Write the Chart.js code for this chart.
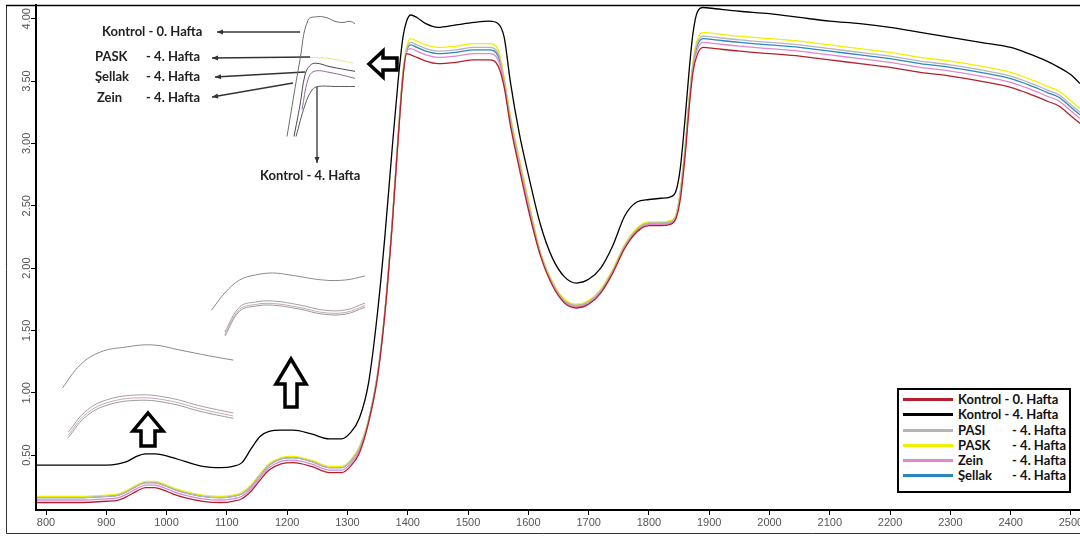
<!DOCTYPE html>
<html>
<head>
<meta charset="utf-8">
<script src="https://cdn.jsdelivr.net/npm/chart.js@4.4.1/dist/chart.umd.min.js"></script>
<style>
  html, body { margin: 0; padding: 0; background: #fff; }
  #wrap { position: relative; width: 1080px; height: 536px; overflow: hidden; }
  #main { position: absolute; left: 0; top: 0; }
  .inset { position: absolute; }
  #legend {
    position: absolute; left: 897px; top: 388px; width: 170px; height: 99px;
    border: 2px solid #000; background: #fff; padding-top: 2px; box-sizing: content-box;
    font: bold 13px Lato, sans-serif; color: #111;
  }
  #legend .row { position: relative; height: 15.3px; line-height: 15.3px; }
  #legend .sw { position: absolute; left: 4px; top: 6px; width: 50px; height: 3px; }
  #legend .nm { position: absolute; left: 59px; top: 0; }
  #legend .sf { position: absolute; right: 3px; top: 0; }
</style>
</head>
<body>
<div id="wrap">
  <canvas id="main" width="1080" height="536"></canvas>
  <canvas id="ins1" class="inset" width="75" height="128" style="left:283px;top:12px"></canvas>
  <canvas id="ins2" class="inset" width="165" height="75" style="left:205px;top:262px"></canvas>
  <canvas id="ins3" class="inset" width="178" height="98" style="left:60px;top:340px"></canvas>
  <div id="legend"></div>
</div>
<script>
// dalga boyu (nm)
const wl = [785,800,850,900,920,935,950,965,980,995,1010,1030,1060,1090,1110,1125,1140,1155,1170,1190,
  1210,1240,1270,1290,1305,1320,1335,1350,1362,1374,1384,1392,1398,1405,1415,1430,1450,1480,1510,1535,
  1550,1560,1570,1585,1600,1620,1640,1660,1680,1700,1720,1740,1760,1780,1800,1820,1835,1845,1852,1860,
  1867,1873,1880,1890,1910,1950,2000,2050,2100,2150,2200,2250,2300,2350,2400,2430,2460,2480,2500,2515];

const kontrol0 = [0.12,0.12,0.12,0.13,0.14,0.17,0.21,0.24,0.24,0.22,0.19,0.16,0.13,0.12,0.13,0.15,0.21,0.30,0.38,0.43,
  0.44,0.41,0.36,0.36,0.41,0.52,0.76,1.13,1.63,2.33,3.03,3.53,3.72,3.71,3.69,3.66,3.64,3.65,3.67,3.67,
  3.62,3.45,3.15,2.80,2.47,2.10,1.86,1.72,1.68,1.71,1.80,1.96,2.16,2.29,2.34,2.34,2.35,2.40,2.55,2.90,
  3.30,3.57,3.71,3.77,3.76,3.74,3.72,3.70,3.67,3.64,3.61,3.57,3.54,3.50,3.45,3.40,3.34,3.30,3.22,3.16];

const kontrol4 = [0.42,0.42,0.42,0.42,0.43,0.45,0.49,0.51,0.51,0.50,0.48,0.45,0.41,0.40,0.41,0.44,0.55,0.65,0.69,0.70,
  0.70,0.67,0.63,0.63,0.68,0.80,1.08,1.65,2.25,2.95,3.50,3.85,3.98,4.03,4.01,3.96,3.93,3.95,3.97,3.98,
  3.96,3.85,3.50,3.08,2.75,2.35,2.08,1.93,1.88,1.91,2.00,2.18,2.42,2.53,2.55,2.56,2.57,2.62,2.80,3.20,
  3.60,3.88,4.05,4.09,4.08,4.06,4.04,4.01,3.98,3.96,3.93,3.89,3.85,3.81,3.77,3.72,3.66,3.61,3.55,3.48];

const pasi = [0.16,0.16,0.16,0.17,0.18,0.21,0.25,0.28,0.28,0.26,0.23,0.20,0.17,0.16,0.17,0.19,0.25,0.34,0.42,0.47,
  0.48,0.45,0.40,0.40,0.45,0.56,0.78,1.15,1.65,2.35,3.05,3.56,3.75,3.81,3.79,3.76,3.74,3.75,3.77,3.77,
  3.72,3.51,3.21,2.86,2.53,2.12,1.88,1.74,1.70,1.73,1.82,1.98,2.18,2.31,2.36,2.36,2.37,2.42,2.61,2.96,
  3.36,3.63,3.80,3.86,3.85,3.83,3.81,3.79,3.76,3.73,3.70,3.66,3.63,3.59,3.54,3.49,3.43,3.39,3.31,3.25];

const pask = [0.17,0.17,0.17,0.18,0.19,0.22,0.26,0.29,0.29,0.27,0.24,0.21,0.18,0.17,0.18,0.20,0.26,0.35,0.43,0.48,
  0.49,0.46,0.41,0.41,0.46,0.57,0.78,1.15,1.65,2.35,3.06,3.57,3.77,3.84,3.82,3.79,3.77,3.78,3.80,3.80,
  3.75,3.53,3.23,2.88,2.55,2.13,1.89,1.75,1.71,1.74,1.83,1.99,2.19,2.32,2.37,2.37,2.38,2.43,2.62,2.97,
  3.37,3.65,3.83,3.89,3.88,3.86,3.84,3.82,3.79,3.76,3.73,3.69,3.66,3.62,3.57,3.52,3.46,3.42,3.34,3.28];

const zein = [0.14,0.14,0.14,0.15,0.16,0.19,0.23,0.26,0.26,0.24,0.21,0.18,0.15,0.14,0.15,0.17,0.23,0.32,0.40,0.45,
  0.46,0.43,0.38,0.38,0.43,0.54,0.77,1.14,1.64,2.34,3.04,3.54,3.73,3.76,3.74,3.71,3.69,3.70,3.72,3.72,
  3.67,3.48,3.18,2.83,2.50,2.11,1.87,1.73,1.69,1.72,1.81,1.97,2.17,2.30,2.35,2.35,2.36,2.41,2.58,2.93,
  3.33,3.60,3.75,3.81,3.80,3.78,3.76,3.74,3.71,3.68,3.65,3.61,3.58,3.54,3.49,3.44,3.38,3.34,3.26,3.20];

const sellak = [0.16,0.16,0.16,0.17,0.18,0.21,0.25,0.28,0.28,0.26,0.23,0.20,0.17,0.16,0.17,0.19,0.25,0.34,0.42,0.47,
  0.48,0.45,0.40,0.40,0.45,0.56,0.78,1.15,1.65,2.35,3.05,3.55,3.74,3.79,3.77,3.74,3.72,3.73,3.75,3.75,
  3.70,3.50,3.20,2.85,2.52,2.12,1.88,1.74,1.70,1.73,1.82,1.98,2.18,2.31,2.36,2.36,2.37,2.42,2.60,2.95,
  3.35,3.62,3.78,3.84,3.83,3.81,3.79,3.77,3.74,3.71,3.68,3.64,3.61,3.57,3.52,3.47,3.41,3.37,3.29,3.23];

const xTicks = [800,900,1000,1100,1200,1300,1400,1500,1600,1700,1800,1900,2000,2100,2200,2300,2400,2500];
const yTicks = [0.5,1.0,1.5,2.0,2.5,3.0,3.5,4.0];

// büyütülmüş kesitler
const ins1TopWl = [1389,1402,1410,1420,1429,1437,1445,1452,1457];
const ins1Top = [3.03,3.69,4.03,4.06,4.05,4.02,4.01,4.02,4.00];
const ins1YelWl = [1412,1432,1455];
const ins1Yel = [3.71,3.70,3.66];
const ins1AWl = [1396,1402,1407,1412,1418,1432,1457];
const ins1A = [3.03,3.30,3.56,3.64,3.66,3.63,3.59];
const ins1BWl = [1404,1410,1416,1432,1457];
const ins1B = [3.26,3.52,3.59,3.58,3.53];
const ins1CWl = [1398,1407,1414,1420,1437,1457];
const ins1C = [3.03,3.30,3.43,3.46,3.46,3.46];

const ins2TopWl = [1108,1124,1142,1161,1182,1203,1243,1270,1294];
const ins2Top = [0.512,0.614,0.692,0.722,0.734,0.722,0.692,0.692,0.716];
const ins2Wl = [1124,1142,1161,1182,1215,1243,1270,1294];
const ins2A = [0.380,0.530,0.560,0.566,0.542,0.512,0.512,0.554];
const ins2B = [0.365,0.515,0.545,0.551,0.527,0.497,0.497,0.539];
const ins2C = [0.355,0.505,0.535,0.541,0.517,0.487,0.487,0.529];

const ins3TopWl = [902,917,934,955,978,1001,1026,1046];
const ins3Top = [0.404,0.498,0.551,0.571,0.580,0.559,0.535,0.518];
const ins3Wl = [907,921,939,967,993,1018,1046];
const ins3A = [0.224,0.306,0.355,0.376,0.363,0.331,0.302];
const ins3B = [0.212,0.294,0.343,0.364,0.351,0.319,0.290];
const ins3C = [0.202,0.284,0.333,0.354,0.341,0.309,0.280];

const pts = (xs, ys) => xs.map((x, i) => ({ x: x, y: ys[i] }));

const series = [
  { label: 'Kontrol - 0. Hafta', data: kontrol0, color: '#b3202c', joined: true },
  { label: 'Kontrol - 4. Hafta', data: kontrol4, color: '#000000', joined: true },
  { label: 'PASI - 4. Hafta', data: pasi, color: '#b5b5b5' },
  { label: 'PASK - 4. Hafta', data: pask, color: '#f0f000' },
  { label: 'Zein - 4. Hafta', data: zein, color: '#e086d2' },
  { label: 'Şellak - 4. Hafta', data: sellak, color: '#2b86c5' }
];

// eksen etiketleri (y dikey yazılır)
const yLabels = {
  id: 'yLabels',
  afterDraw(chart) {
    const ys = chart.scales.y, c = chart.ctx;
    c.save();
    c.font = '11px "Liberation Sans", Arial, sans-serif';
    c.fillStyle = '#555';
    c.textAlign = 'center';
    c.textBaseline = 'middle';
    ys.ticks.forEach(t => {
      c.save();
      c.translate(ys.right - 9, ys.getPixelForValue(t.value));
      c.rotate(-Math.PI / 2);
      c.fillText(t.value.toFixed(2), 0, 0);
      c.restore();
    });
    c.restore();
  }
};

// çerçeve
const frame = {
  id: 'frame',
  beforeDraw(chart) {
    const c = chart.ctx;
    c.save();
    c.fillStyle = '#fff';
    c.fillRect(0, 0, chart.width, chart.height);
    c.restore();
  },
  afterDraw(chart) {
    const c = chart.ctx, a = chart.chartArea;
    c.save();
    c.strokeStyle = '#333';
    c.lineWidth = 1;
    c.beginPath();
    c.moveTo(1090, 533.5); c.lineTo(6.5, 533.5); c.lineTo(6.5, 5.5);
    c.stroke();
    c.strokeStyle = '#000';
    c.lineWidth = 1.5;
    c.beginPath();
    c.moveTo(6, a.top + 0.5); c.lineTo(chart.width, a.top + 0.5);
    c.stroke();
    c.restore();
  }
};

// açıklama metinleri ve oklar
const labels = [
  { t: 'Kontrol - 0. Hafta', x: 102, y: 32 },
  { t: 'PASK', x: 95, y: 57, s: '- 4. Hafta' },
  { t: 'Şellak', x: 95, y: 77, s: '- 4. Hafta' },
  { t: 'Zein', x: 97, y: 98, s: '- 4. Hafta' },
  { t: 'Kontrol - 4. Hafta', x: 260, y: 176 }
];
const thinArrows = [
  [300, 32, 217, 32], [310, 57, 212, 58], [305, 72, 215, 77], [293, 83, 212, 97], [317, 87, 317, 163]
];
const bigArrows = [
  [[369,64],[383,51],[383,58],[397,58],[397,70],[383,70],[383,77]],
  [[291,359],[306,384],[297,384],[297,407],[285,407],[285,384],[276,384]],
  [[148,413],[163,431],[155,431],[155,446],[141,446],[141,431],[133,431]]
];

const callouts = {
  id: 'callouts',
  afterDraw(chart) {
    const c = chart.ctx;
    c.save();
    c.font = 'bold 13px Lato, sans-serif';
    c.fillStyle = '#222';
    c.textBaseline = 'middle';
    labels.forEach(l => {
      c.textAlign = 'left';
      c.fillText(l.t, l.x, l.y);
      if (l.s) { c.textAlign = 'right'; c.fillText(l.s, 200, l.y); }
    });
    c.strokeStyle = '#333';
    c.fillStyle = '#333';
    c.lineWidth = 1.3;
    thinArrows.forEach(([x1, y1, x2, y2]) => {
      const ang = Math.atan2(y2 - y1, x2 - x1);
      c.beginPath(); c.moveTo(x1, y1); c.lineTo(x2, y2); c.stroke();
      c.beginPath();
      c.moveTo(x2, y2);
      c.lineTo(x2 - 6 * Math.cos(ang) + 2.5 * Math.sin(ang), y2 - 6 * Math.sin(ang) - 2.5 * Math.cos(ang));
      c.lineTo(x2 - 6 * Math.cos(ang) - 2.5 * Math.sin(ang), y2 - 6 * Math.sin(ang) + 2.5 * Math.cos(ang));
      c.closePath(); c.fill();
    });
    c.lineWidth = 3.5;
    c.lineJoin = 'miter';
    c.strokeStyle = '#000';
    c.fillStyle = '#fff';
    bigArrows.forEach(p => {
      c.beginPath();
      p.forEach(([x, y], i) => i ? c.lineTo(x, y) : c.moveTo(x, y));
      c.closePath(); c.fill(); c.stroke();
    });
    c.restore();
  }
};

const axisGrid = { display: true, drawOnChartArea: false, drawTicks: true, tickLength: 5, color: '#000', lineWidth: 1 };

new Chart(document.getElementById('main'), {
  type: 'line',
  data: {
    datasets: series.map(s => ({
      label: s.label,
      data: pts(wl, s.data),
      borderColor: s.color,
      borderWidth: 1.3,
      pointRadius: 0,
      cubicInterpolationMode: 'monotone',
      fill: false
    }))
  },
  options: {
    responsive: false,
    animation: false,
    devicePixelRatio: 1,
    layout: { padding: { top: 5, left: 0, right: 0, bottom: 0 } },
    plugins: { legend: { display: false }, tooltip: { enabled: false } },
    scales: {
      x: {
        type: 'linear', min: 783.4, max: 2515,
        afterBuildTicks: s => { s.ticks = xTicks.map(v => ({ value: v })); },
        afterFit: s => { s.height = 26; s.paddingLeft = 0; s.paddingRight = 0; },
        ticks: { color: '#555', font: { family: '"Liberation Sans", Arial, sans-serif', size: 11 }, padding: 1, maxRotation: 0, callback: v => v },
        grid: axisGrid,
        border: { display: true, color: '#000', width: 2 }
      },
      y: {
        type: 'linear', min: 0.06, max: 4.11,
        afterBuildTicks: s => { s.ticks = yTicks.map(v => ({ value: v })); },
        afterFit: s => { s.width = 36; },
        ticks: { display: false },
        grid: axisGrid,
        border: { display: true, color: '#000', width: 2 }
      }
    }
  },
  plugins: [frame, yLabels, callouts]
});

function inset(id, sets, xmin, xmax, ymin, ymax) {
  new Chart(document.getElementById(id), {
    type: 'line',
    data: {
      datasets: sets.map(s => ({
        data: s.d, borderColor: s.c, borderWidth: 1, pointRadius: 0, tension: 0.4, fill: false
      }))
    },
    options: {
      responsive: false, animation: false, devicePixelRatio: 1,
      plugins: { legend: { display: false }, tooltip: { enabled: false } },
      layout: { padding: 0 },
      scales: {
        x: { type: 'linear', display: false, min: xmin, max: xmax },
        y: { type: 'linear', display: false, min: ymin, max: ymax }
      }
    }
  });
}

inset('ins1', [
  { d: pts(ins1TopWl, ins1Top), c: '#6e6e6e' },
  { d: pts(ins1YelWl, ins1Yel), c: '#e6e690' },
  { d: pts(ins1AWl, ins1A), c: '#4a4a4a' },
  { d: pts(ins1BWl, ins1B), c: '#8a6b98' },
  { d: pts(ins1CWl, ins1C), c: '#5a5a5a' }
], 1385, 1460, 3.0, 4.1);

inset('ins2', [
  { d: pts(ins2TopWl, ins2Top), c: '#8a8a8a' },
  { d: pts(ins2Wl, ins2A), c: '#a0a0a0' },
  { d: pts(ins2Wl, ins2B), c: '#c8a4bc' },
  { d: pts(ins2Wl, ins2C), c: '#9a9a9a' }
], 1100, 1300, 0.35, 0.80);

inset('ins3', [
  { d: pts(ins3TopWl, ins3Top), c: '#8a8a8a' },
  { d: pts(ins3Wl, ins3A), c: '#a0a0a0' },
  { d: pts(ins3Wl, ins3B), c: '#c8a4bc' },
  { d: pts(ins3Wl, ins3C), c: '#9a9a9a' }
], 900, 1050, 0.20, 0.60);

// lejant
const leg = document.getElementById('legend');
series.forEach(s => {
  const row = document.createElement('div');
  row.className = 'row';
  let txt;
  if (s.joined) {
    txt = `<span class="nm">${s.label}</span>`;
  } else {
    const parts = s.label.split(' - ');
    txt = `<span class="nm">${parts[0]}</span><span class="sf">- ${parts[1]}</span>`;
  }
  row.innerHTML = `<span class="sw" style="background:${s.color}"></span>` + txt;
  leg.appendChild(row);
});
</script>
</body>
</html>
